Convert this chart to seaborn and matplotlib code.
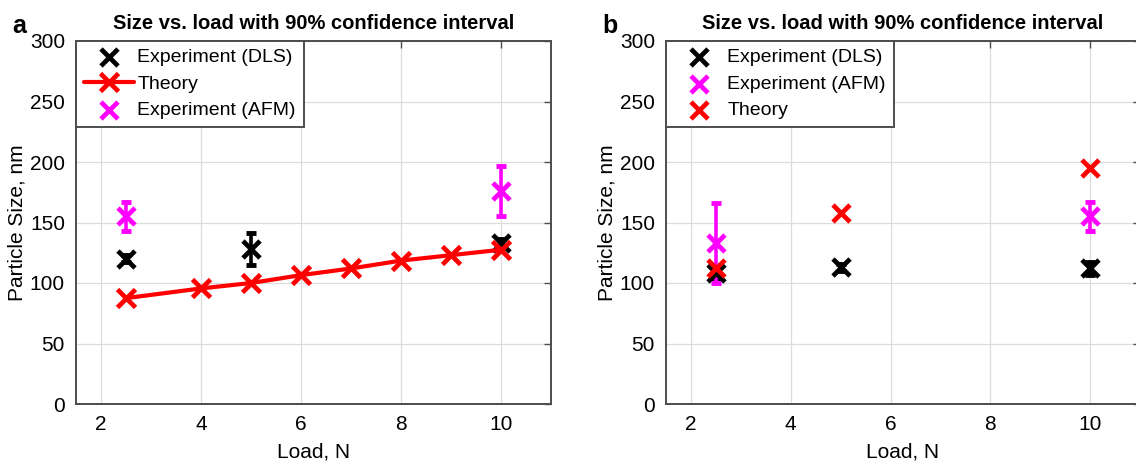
import numpy as np
import matplotlib
matplotlib.use('Agg')
import matplotlib.pyplot as plt
import seaborn as sns

sns.set_style('white')
plt.rcParams['font.family'] = ['Liberation Sans', 'DejaVu Sans']
plt.rcParams['text.color'] = 'black'
plt.rcParams['axes.labelcolor'] = 'black'
plt.rcParams['xtick.color'] = 'black'
plt.rcParams['ytick.color'] = 'black'

# panel a data
a_dls_x = [2.5, 5, 10]
a_dls_y = [120, 128, 133]
a_dls_err = [3, 13, 3]
a_afm_x = [2.5, 10]
a_afm_y = [155, 176]
a_afm_err = [12, 21]
a_theory_x = [2.5, 4, 5, 6, 7, 8, 9, 10]
a_theory_y = [87.5, 95.5, 100, 106.5, 112, 118.5, 123, 127.5]

# panel b data
b_dls_x = [2.5, 5, 10]
b_dls_y = [108, 113, 112]
b_dls_err = [4, 3, 5]
b_afm_x = [2.5, 10]
b_afm_y = [133, 155]
b_afm_err = [33, 12]
b_theory_x = [2.5, 5, 10]
b_theory_y = [112, 158, 195]

title = 'Size vs. load with 90% confidence interval'
xticks = [2, 4, 6, 8, 10]
yticks = [0, 50, 100, 150, 200, 250, 300]

BLACK = '#000000'
MAGENTA = '#ff00ff'
RED = '#ff0000'
MS = 150   # scatter size
MLW = 3.4  # marker line width

fig = plt.figure(figsize=(11.36, 4.63), dpi=100)
ax_a = fig.add_axes([76/1136, 59/463, 475/1136, 363/463])
ax_b = fig.add_axes([666/1136, 59/463, 474/1136, 363/463])


def errbars(ax, x, y, e, c):
    ax.errorbar(x, y, yerr=e, fmt='none', ecolor=c, elinewidth=2.6,
                capsize=3.5, capthick=3.5, zorder=2)


def dots(ax, x, y, c, label):
    sns.scatterplot(x=x, y=y, ax=ax, marker='x', s=MS, color=c,
                    linewidth=MLW, label=label, zorder=3)


# a
errbars(ax_a, a_dls_x, a_dls_y, a_dls_err, BLACK)
dots(ax_a, a_dls_x, a_dls_y, BLACK, 'Experiment (DLS)')
ax_a.plot(a_theory_x, a_theory_y, color=RED, linewidth=3, marker='x',
          markersize=12.5, markeredgewidth=MLW, label='Theory', zorder=4)
errbars(ax_a, a_afm_x, a_afm_y, a_afm_err, MAGENTA)
dots(ax_a, a_afm_x, a_afm_y, MAGENTA, 'Experiment (AFM)')

# b
errbars(ax_b, b_dls_x, b_dls_y, b_dls_err, BLACK)
dots(ax_b, b_dls_x, b_dls_y, BLACK, 'Experiment (DLS)')
errbars(ax_b, b_afm_x, b_afm_y, b_afm_err, MAGENTA)
dots(ax_b, b_afm_x, b_afm_y, MAGENTA, 'Experiment (AFM)')
dots(ax_b, b_theory_x, b_theory_y, RED, 'Theory')

for ax, letter in [(ax_a, 'a'), (ax_b, 'b')]:
    ax.set_xlim(1.5, 11)
    ax.set_ylim(0, 300)
    ax.set_xticks(xticks)
    ax.set_yticks(yticks)
    ax.grid(True, color='#dddddd', linewidth=0.9)
    ax.set_axisbelow(True)
    for s in ax.spines.values():
        s.set_color('#4d4d4d')
        s.set_linewidth(1.4)
    ax.tick_params(direction='in', length=5, width=1, color='#4d4d4d',
                   top=True, right=True, labelsize=15, pad=8)
    ax.set_xlabel('Load, N', fontsize=15, labelpad=6)
    ax.set_ylabel('Particle Size, nm', fontsize=15, labelpad=2)
    ax.set_title(title, fontsize=14.5, fontweight='bold', pad=9)
    ax.text(-0.134, 1.022, letter, transform=ax.transAxes, fontsize=18,
            fontweight='bold', ha='left', va='baseline')
    leg = ax.legend(loc='upper left', bbox_to_anchor=(0, 1), borderaxespad=0,
                    fancybox=False, edgecolor='#4d4d4d', framealpha=1,
                    fontsize=14, handlelength=2.6, handletextpad=0.15,
                    labelspacing=0.45, borderpad=0.4)
    leg.get_frame().set_linewidth(1.4)

fig.savefig('out.png', dpi=100)
